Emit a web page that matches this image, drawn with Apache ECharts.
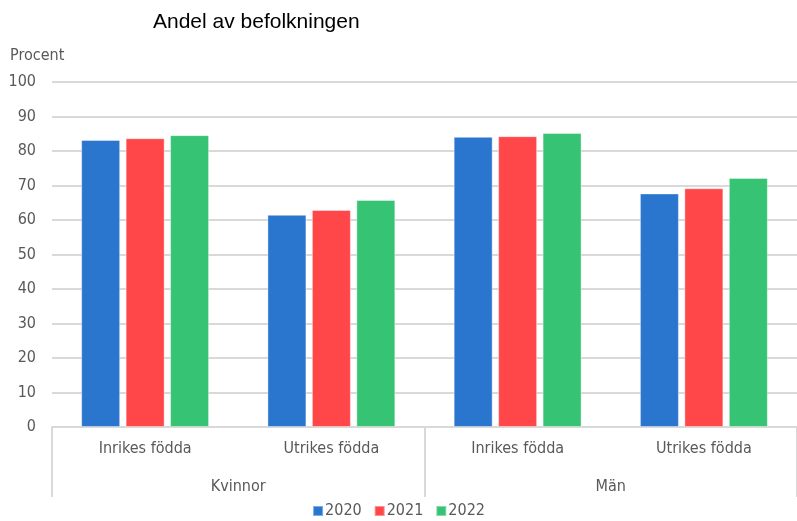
<!DOCTYPE html>
<html>
<head>
<meta charset="utf-8">
<script src="https://cdn.jsdelivr.net/npm/echarts@6/dist/echarts.min.js"></script>
<style>
  html, body { margin: 0; padding: 0; background: #fff; }
  #chart { width: 797px; height: 521px; }
</style>
</head>
<body>
<div id="chart"></div>
<script>
// kategorier
const categories = ["Inrikes födda", "Utrikes födda", "Inrikes födda", "Utrikes födda"];
const groups = ["Kvinnor", "Män"];
const years = ["2020", "2021", "2022"];
// procent per år
const values2020 = [83.2, 61.5, 84.1, 67.7];
const values2021 = [83.7, 62.9, 84.3, 69.2];
const values2022 = [84.6, 65.8, 85.2, 72.2];
const colors = ["#2A76CF", "#FF474A", "#36C373"];

const narrow = "'DejaVu Sans Condensed', 'Liberation Sans Narrow', Roboto, sans-serif";
const chart = echarts.init(document.getElementById("chart"));

const seriesData = [values2020, values2021, values2022];

const option = {
  animation: false,
  title: {
    text: "Andel av befolkningen",
    left: 148,
    top: 7,
    textStyle: { color: "#000", fontSize: 21, fontWeight: "normal", fontFamily: "Liberation Sans" },
  },
  legend: {
    bottom: -3,
    left: "center",
    icon: "rect",
    itemWidth: 10,
    itemHeight: 10,
    itemGap: 12,
    textStyle: { color: "#595959", fontSize: 16, fontFamily: narrow, padding: [0, 0, 0, -3] },
    data: years,
  },
  grid: { left: 52, right: 0, top: 82, bottom: 94, containLabel: false },
  yAxis: {
    type: "value",
    min: 0,
    max: 100,
    interval: 10,
    name: "Procent",
    nameLocation: "end",
    nameGap: 18,
    nameTextStyle: { color: "#595959", fontSize: 16, fontFamily: narrow, align: "left", padding: [0, 0, 0, -42] },
    axisLine: { show: false },
    axisTick: { show: false },
    axisLabel: { color: "#595959", fontSize: 16, fontFamily: narrow, margin: 16 },
    splitLine: { lineStyle: { color: "#d9d9d9", width: 2 } },
  },
  xAxis: [
    {
      type: "category",
      data: categories,
      position: "bottom",
      axisLine: { show: true, lineStyle: { color: "#d9d9d9", width: 2 } },
      axisTick: { show: false },
      axisLabel: { color: "#595959", fontSize: 16, fontFamily: narrow, margin: 14 },
    },
    {
      type: "category",
      data: groups,
      position: "bottom",
      axisLine: { show: false },
      axisTick: { show: true, length: 70, alignWithLabel: false, lineStyle: { color: "#d9d9d9", width: 2 } },
      axisLabel: { color: "#595959", fontSize: 16, fontFamily: narrow, margin: 52 },
      splitLine: { show: false },
    },
  ],
  series: years.map((y, i) => ({
    name: y,
    type: "bar",
    xAxisIndex: 0,
    barWidth: 39,
    barGap: "14%",
    itemStyle: { color: colors[i], borderColor: "rgba(255,255,255,0.4)", borderWidth: 1 },
    data: seriesData[i],
  })),
};

chart.setOption(option);
</script>
</body>
</html>
